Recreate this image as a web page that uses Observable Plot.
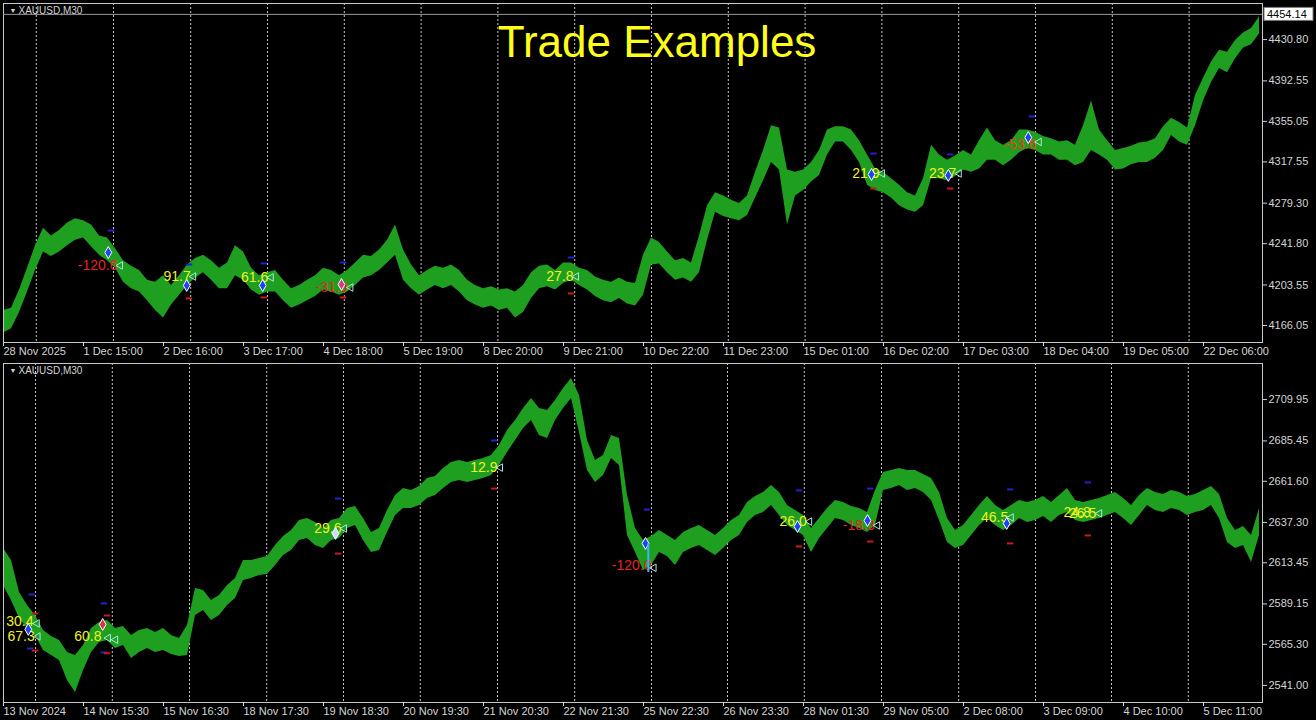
<!DOCTYPE html>
<html>
<head>
<meta charset="utf-8">
<script src="https://cdn.jsdelivr.net/npm/d3@7"></script>
<script src="https://cdn.jsdelivr.net/npm/@observablehq/plot@0.6"></script>
<style>
  body { margin: 0; background: #000; width: 1316px; height: 720px; overflow: hidden; }
  svg { display: block; }
</style>
</head>
<body>
<div id="chart"></div>
<script>
// ---- top chart: XAUUSD M30, Nov/Dec 2025 (one sample every 8 px, high / low) ----
const topHi = [4180,4182,4199,4219,4240,4256,4249,4254,4261,4265, 4263,4259,4249,4247,4237,4226,4221,4217,4208,4206,
  4212,4203,4212,4222,4228,4231,4226,4219,4224,4240, 4234,4219,4212,4215,4217,4208,4200,4203,4208,4212,
  4219,4217,4212,4217,4224,4231,4230,4236,4245,4259, 4236,4222,4212,4217,4221,4219,4222,4217,4208,4203,
  4200,4202,4199,4200,4197,4203,4215,4221,4222,4217, 4224,4224,4219,4217,4211,4208,4206,4210,4206,4205,
  4231,4247,4243,4234,4226,4228,4224,4249,4277,4289, 4286,4282,4279,4286,4308,4328,4351,4349,4310,4308,
  4310,4317,4328,4347,4350,4350,4347,4337,4324,4311, 4308,4302,4296,4289,4286,4302,4333,4324,4319,4323,
  4328,4324,4337,4349,4337,4333,4337,4347,4347,4345, 4341,4339,4336,4337,4333,4351,4374,4347,4337,4328,
  4330,4332,4335,4336,4339,4350,4358,4354,4349,4379, 4395,4410,4421,4419,4430,4437,4441,4452];
const topLo = [4159,4163,4178,4197,4217,4234,4230,4234,4240,4245, 4247,4239,4231,4226,4219,4206,4200,4197,4189,4180,
  4173,4185,4194,4203,4210,4215,4208,4200,4200,4212, 4208,4199,4194,4197,4197,4189,4182,4185,4189,4193,
  4199,4197,4194,4197,4203,4210,4212,4217,4224,4231, 4208,4200,4194,4199,4203,4200,4203,4197,4189,4185,
  4182,4184,4180,4182,4173,4178,4191,4200,4202,4199, 4205,4208,4203,4199,4193,4189,4187,4191,4186,4184,
  4194,4222,4223,4215,4208,4210,4206,4215,4245,4271, 4267,4265,4263,4268,4284,4300,4317,4310,4259,4286,
  4291,4299,4305,4324,4336,4336,4328,4317,4296,4291, 4289,4284,4277,4273,4271,4277,4302,4302,4300,4304,
  4310,4308,4311,4319,4319,4314,4319,4326,4330,4328, 4324,4324,4319,4319,4314,4317,4328,4324,4319,4310,
  4311,4315,4317,4317,4321,4328,4342,4336,4333,4351, 4374,4391,4404,4400,4413,4423,4426,4436];
const topPrices = [4430.80, 4392.55, 4355.05, 4317.55, 4279.30, 4241.80, 4203.55, 4166.05];
const topBid = 4454.14;
const topTickIdx = [0,10,20,30,40,50,60,70,80,90,100,110,120,130,140,150];
const topTimes = ["28 Nov 2025","1 Dec 15:00","2 Dec 16:00","3 Dec 17:00","4 Dec 18:00","5 Dec 19:00",
  "8 Dec 20:00","9 Dec 21:00","10 Dec 22:00","11 Dec 23:00","15 Dec 01:00","16 Dec 02:00",
  "17 Dec 03:00","18 Dec 04:00","19 Dec 05:00","22 Dec 06:00"];
const topGrid = [4.1,13.75,23.4,33,42.6,52.2,61.8,71.4,81,90.6,100.2,109.8,119.4,129,138.6,148.2];
const topLabels = [
  {i: 14.25, p: 4221.6, t: "-120.6", c: "#e82222"},
  {i: 23.4, p: 4211.4, t: "91.7", c: "#f2f222"},
  {i: 33.1, p: 4210.5, t: "61.6", c: "#f2f222"},
  {i: 43.0, p: 4201.2, t: "-31.9", c: "#e82222"},
  {i: 71.25, p: 4211.4, t: "27.8", c: "#f2f222"},
  {i: 109.5, p: 4306.8, t: "21.9", c: "#f2f222"},
  {i: 119.1, p: 4306.8, t: "23.7", c: "#f2f222"},
  {i: 129.1, p: 4333.7, t: "-53.6", c: "#e0401a"}];
const topEntries = [
  {i: 13.1, p: 4233.6, c: "#2040ff"}, {i: 22.9, p: 4203.1, c: "#2040ff"},
  {i: 32.4, p: 4203.1, c: "#2040ff"}, {i: 42.25, p: 4204.0, c: "#d04080"},
  {i: 108.5, p: 4305.9, c: "#2040ff"}, {i: 118.1, p: 4305.0, c: "#2040ff"},
  {i: 128.1, p: 4340.1, c: "#2040ff"}];
const topExits = [
  {i: 14.6, p: 4221.6}, {i: 23.75, p: 4211.4}, {i: 33.45, p: 4210.5}, {i: 43.4, p: 4201.2},
  {i: 71.6, p: 4211.4}, {i: 109.85, p: 4306.8}, {i: 119.45, p: 4306.8}, {i: 129.45, p: 4336.0}];
const topTP = [
  {i: 13.5, p: 4254.0}, {i: 23.25, p: 4222.5}, {i: 32.6, p: 4223.5}, {i: 42.5, p: 4224.4},
  {i: 71.0, p: 4229.0}, {i: 108.8, p: 4325.3}, {i: 118.4, p: 4324.4}, {i: 128.6, p: 4359.6}];
const topSL = [
  {i: 23.25, p: 4191.1}, {i: 32.6, p: 4192.0}, {i: 42.5, p: 4192.0}, {i: 71.0, p: 4195.7},
  {i: 108.8, p: 4292.9}, {i: 118.4, p: 4292.9}];

// ---- bottom chart: XAUUSD M30, Nov/Dec 2024 ----
const botHi = [2621.9,2614.8,2595.9,2588.2,2582.3,2573.5,2569.9,2567.6,2560.5,2558.7,
  2564.6,2574.6,2578.2,2579.4,2574.6,2575.8,2570.5,2573.5,2574.6,2572.3,
  2574.6,2570.5,2568.7,2576.4,2598.3,2597.1,2591.2,2594.1,2600.0,2604.2,
  2614.8,2614.8,2616.0,2617.2,2623.7,2629.0,2632.5,2638.4,2639.6,2637.3,
  2633.7,2638.4,2639.6,2645.5,2646.7,2639.6,2631.4,2633.7,2644.4,2653.2,
  2657.3,2656.2,2658.5,2663.2,2664.4,2669.2,2672.7,2673.9,2672.7,2673.9,
  2675.1,2676.8,2682.7,2691.6,2697.5,2704.6,2710.5,2704.6,2703.4,2709.3,
  2716.4,2722.3,2712.3,2685.7,2673.9,2676.8,2688.6,2686.9,2653.2,2633.7,
  2626.6,2629.0,2632.5,2629.6,2626.6,2631.4,2633.7,2635.5,2632.5,2629.6,
  2633.7,2638.4,2641.4,2649.1,2652.6,2655.0,2659.1,2655.0,2647.3,2644.4,
  2641.4,2633.7,2639.6,2645.5,2650.3,2649.1,2646.7,2645.5,2643.2,2656.2,
  2666.8,2668.0,2669.2,2668.0,2668.0,2665.6,2663.2,2655.0,2639.6,2632.5,
  2635.5,2641.4,2647.3,2652.6,2647.3,2644.4,2647.3,2650.3,2649.1,2650.3,
  2652.6,2649.1,2653.2,2657.3,2650.3,2649.1,2650.3,2651.4,2653.2,2655.0,
  2651.4,2647.3,2653.2,2657.3,2655.0,2653.8,2656.2,2655.0,2652.6,2653.8,
  2656.2,2658.5,2653.8,2639.6,2632.5,2634.9,2629.6,2645.5];
const botLo = [2600.0,2591.2,2580.6,2574.6,2570.5,2561.6,2558.7,2555.7,2543.9,2536.8,
  2549.8,2560.5,2566.4,2567.6,2562.8,2564.6,2556.9,2560.5,2562.8,2560.5,
  2561.6,2559.3,2558.1,2558.7,2582.3,2585.3,2579.4,2582.3,2588.2,2592.4,
  2603.0,2604.2,2606.0,2606.5,2611.9,2617.8,2620.7,2626.6,2627.8,2623.7,
  2621.9,2626.6,2627.8,2633.7,2635.5,2626.6,2619.5,2620.7,2631.4,2641.4,
  2645.5,2645.5,2647.3,2651.4,2653.2,2657.3,2660.9,2662.1,2660.9,2662.1,
  2663.2,2665.0,2670.9,2678.6,2685.7,2692.8,2697.5,2688.6,2686.9,2697.5,
  2704.6,2710.5,2690.4,2668.0,2660.9,2665.0,2675.1,2670.9,2629.6,2619.5,
  2608.9,2611.9,2619.5,2617.2,2611.9,2619.5,2621.9,2623.7,2620.7,2617.8,
  2621.9,2626.6,2629.6,2637.3,2641.4,2643.2,2647.3,2641.4,2635.5,2632.5,
  2629.6,2619.5,2627.8,2633.7,2639.6,2638.4,2635.5,2633.7,2631.4,2635.5,
  2656.2,2657.3,2659.1,2656.2,2657.3,2655.0,2650.3,2638.4,2625.4,2621.9,
  2623.7,2629.6,2635.5,2639.6,2635.5,2632.5,2635.5,2639.6,2637.3,2638.4,
  2640.8,2637.3,2641.4,2643.2,2638.4,2637.3,2638.4,2639.6,2641.4,2643.2,
  2639.6,2635.5,2641.4,2647.3,2644.4,2643.2,2645.5,2644.4,2641.4,2643.2,
  2644.4,2647.3,2639.6,2625.4,2621.9,2623.7,2613.6,2629.6];
const botPrices = [2709.95, 2685.45, 2661.60, 2637.30, 2613.45, 2589.15, 2565.30, 2541.00];
const botTickIdx = [0,10,20,30,40,50,60,70,80,90,100,110,120,130,140,150];
const botTimes = ["13 Nov 2024","14 Nov 15:30","15 Nov 16:30","18 Nov 17:30","19 Nov 18:30","20 Nov 19:30",
  "21 Nov 20:30","22 Nov 21:30","25 Nov 22:30","26 Nov 23:30","28 Nov 01:30","29 Nov 05:00",
  "2 Dec 08:00","3 Dec 09:00","4 Dec 10:00","5 Dec 11:00"];
const botGrid = [4.0,13.6,23.25,32.9,42.5,52.1,61.75,71.4,81,90.5,100.1,109.75,119.4,129,138.5,148.1];
const botLabels = [
  {i: 3.75, p: 2579.0, t: "30.4", c: "#f2f222"},
  {i: 3.9, p: 2569.9, t: "67.3", c: "#f2f222"},
  {i: 12.25, p: 2569.9, t: "60.8", c: "#f2f222"},
  {i: 42.25, p: 2633.7, t: "29.6", c: "#f2f222"},
  {i: 61.75, p: 2669.7, t: "12.9", c: "#f2f222"},
  {i: 81.0, p: 2611.9, t: "-120.0", c: "#e82222"},
  {i: 100.4, p: 2637.8, t: "26.0", c: "#f2f222"},
  {i: 108.9, p: 2635.5, t: "-18.3", c: "#e82222"},
  {i: 125.6, p: 2640.2, t: "46.5", c: "#f2f222"},
  {i: 135.9, p: 2643.2, t: "24.8", c: "#f2f222"},
  {i: 136.6, p: 2642.6, t: "26.5", c: "#f2f222"}];
const botEntries = [
  {i: 3.1, p: 2574.1, c: "#2040ff"}, {i: 12.4, p: 2577.0, c: "#e03050"},
  {i: 41.5, p: 2630.8, c: "#d0d8ff"}, {i: 80.25, p: 2624.9, c: "#2040ff"},
  {i: 99.25, p: 2634.9, c: "#2040ff"}, {i: 108.0, p: 2638.4, c: "#2040ff"},
  {i: 125.4, p: 2636.7, c: "#2040ff"}];
const botExits = [
  {i: 4.2, p: 2577.6}, {i: 4.3, p: 2569.9}, {i: 13.1, p: 2569.0}, {i: 14.0, p: 2568.0},
  {i: 42.6, p: 2633.7}, {i: 62.1, p: 2669.7}, {i: 81.3, p: 2610.5}, {i: 100.75, p: 2637.8},
  {i: 109.25, p: 2635.5}, {i: 125.95, p: 2640.2}, {i: 137.0, p: 2642.6}];
const botTP = [
  {i: 3.6, p: 2594.7}, {i: 3.4, p: 2562.8}, {i: 12.6, p: 2589.4}, {i: 12.6, p: 2560.5},
  {i: 41.9, p: 2651.4}, {i: 61.4, p: 2685.7}, {i: 80.5, p: 2644.9}, {i: 99.5, p: 2656.2},
  {i: 108.4, p: 2657.3}, {i: 125.9, p: 2656.8}, {i: 135.6, p: 2660.9}];
const botSL = [
  {i: 4.0, p: 2583.5}, {i: 4.0, p: 2561.6}, {i: 13.0, p: 2582.3}, {i: 13.0, p: 2560.0},
  {i: 41.9, p: 2618.9}, {i: 61.4, p: 2657.3}, {i: 99.5, p: 2623.1}, {i: 108.4, p: 2626.0},
  {i: 125.9, p: 2624.9}, {i: 135.6, p: 2629.6}];
const botStop = [{i: 80.6, p1: 2624.9, p2: 2607.7}];

const green = "#1f9f1f";
const axisColor = "#d4d4d4";

function panel(o) {
  const bars = o.hi.map((h, i) => ({i, hi: h, lo: o.lo[i]}));
  const marks = [
    Plot.ruleX(o.grid, {stroke: "#c4c4c4", strokeDasharray: "2,2", strokeWidth: 1}),
    Plot.areaY(bars, {x: "i", y1: "lo", y2: "hi", fill: green}),
    Plot.ruleY(o.tp, {y: "p", x1: d => d.i - 0.4, x2: d => d.i + 0.4, stroke: "#2222c8", strokeWidth: 2}),
    Plot.ruleY(o.sl, {y: "p", x1: d => d.i - 0.4, x2: d => d.i + 0.4, stroke: "#c81a1a", strokeWidth: 2}),
    Plot.text(o.labels, {x: "i", y: "p", text: "t", fill: "c", textAnchor: "end", fontSize: 14}),
    Plot.dot(o.entries, {x: "i", y: "p", symbol: "diamond", r: 3.6, fill: "c", stroke: "#fff", strokeWidth: 1}),
    Plot.dot(o.exits, {x: "i", y: "p", symbol: "triangle", rotate: -90, r: 2.8, stroke: "#a8e8e0", fill: "none", strokeWidth: 1}),
    Plot.frame({stroke: "#c8c8c8"}),
    Plot.axisY({anchor: "right", ticks: o.prices, tickFormat: d => d.toFixed(2), tickSize: 4, tickPadding: 2,
      fontSize: 11, color: axisColor, label: null}),
    Plot.axisX({anchor: "bottom", ticks: o.tickIdx, tickFormat: d => o.times[o.tickIdx.indexOf(d)],
      textAnchor: "start", tickSize: 4, tickPadding: 1, fontSize: 11, color: axisColor, label: null}),
    Plot.text(["\u25BC"], {frameAnchor: "top-left", dx: 6, dy: 7, lineAnchor: "middle", fontSize: 7, fill: axisColor}),
    Plot.text(["XAUUSD,M30"], {frameAnchor: "top-left", dx: 15, dy: 7, lineAnchor: "middle", fontSize: 10, fill: axisColor}),
    ...(o.extra || [])
  ];
  return Plot.plot({
    width: 1316,
    height: 360,
    marginLeft: 3,
    marginRight: 54,
    marginTop: 3,
    marginBottom: 18,
    x: {domain: [0, 157.375]},
    y: {domain: o.domain},
    style: {background: "#000", color: axisColor, fontFamily: "Liberation Sans, Arial, sans-serif", fontSize: "11px"},
    marks
  });
}

const topPlot = panel({
  hi: topHi, lo: topLo, prices: topPrices, tickIdx: topTickIdx, times: topTimes, grid: topGrid,
  labels: topLabels, entries: topEntries, exits: topExits, tp: topTP, sl: topSL,
  domain: [4150.3, 4464.2],
  extra: [
    Plot.ruleY([topBid], {stroke: "#9a9a9a"}),
    Plot.text(["Trade Examples"], {frameAnchor: "top", lineAnchor: "top", dx: 24, dy: 22, fontSize: 44, fill: "#ffff1a"})
  ]
});

const botPlot = panel({
  hi: botHi, lo: botLo, prices: botPrices, tickIdx: botTickIdx, times: botTimes, grid: botGrid,
  labels: botLabels, entries: botEntries, exits: botExits, tp: botTP, sl: botSL,
  domain: [2530.9, 2731.2],
  extra: [
    Plot.ruleX(botStop, {x: "i", y1: "p1", y2: "p2", stroke: "#3ab4ff", strokeWidth: 2})
  ]
});

// current price box on the top price scale
const yb = topPlot.scale("y").apply(topBid);
const box = d3.select(topPlot).append("g");
box.append("rect").attr("x", 1264).attr("y", yb - 6.5).attr("width", 49).attr("height", 13)
  .attr("fill", "#fff").attr("stroke", "#777");
box.append("text").attr("x", 1267).attr("y", yb + 4).attr("text-anchor", "start")
  .attr("font-size", 11).attr("fill", "#000")
  .text(topBid.toFixed(2));

d3.select("#chart").append(() => topPlot);
d3.select("#chart").append(() => botPlot);
</script>
</body>
</html>
